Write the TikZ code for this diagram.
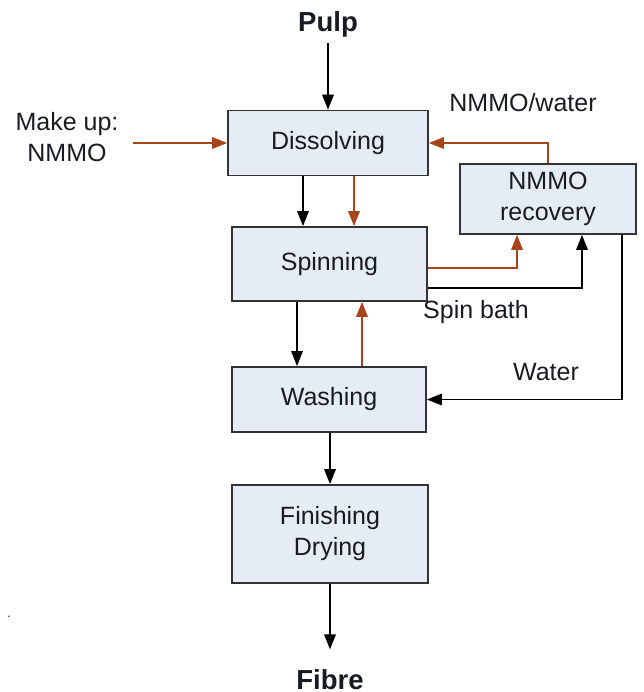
\documentclass[tikz,border=0pt]{standalone}
\usepackage{fontspec}
\setmainfont{Liberation Sans}
\usepackage{tikz}
\usetikzlibrary{arrows.meta,positioning,calc}
\definecolor{lyoblue}{HTML}{E5ECF6}
\definecolor{lyoedge}{HTML}{333333}
\definecolor{lyobrown}{HTML}{A8441A}
\definecolor{lyotext}{HTML}{1A1A22}

\begin{document}
\begin{tikzpicture}[
  x=0.4pt, y=-0.4pt,
  font=\fontsize{10}{12.4}\selectfont, text=lyotext,
  box/.style={draw=lyoedge, line width=0.7pt, fill=lyoblue, align=center,
              inner sep=0pt},
  lbl/.style={align=center, inner sep=0pt},
  ends/.style={font=\fontsize{11}{13}\selectfont\bfseries, inner sep=0pt},
  arrow/.style={-{Triangle[length=6pt, width=4.6pt]}, line width=0.7pt, draw=black},
  back/.style={arrow, draw=lyobrown, -{Triangle[length=6pt, width=4.6pt, fill=lyobrown]}}
]
\useasboundingbox (0,0) rectangle (644,692);

\node[ends] (pulp) at (328,24) {Pulp};
\node[box, minimum width=80pt, minimum height=26pt] (dissolve) at (328,143) {Dissolving};
\node[box, minimum width=78pt, minimum height=29.6pt] (spin) at (329.5,264) {Spinning};
\node[box, minimum width=70.4pt, minimum height=28pt] (recover) at (548,199) {NMMO\\recovery};
\node[box, minimum width=77.6pt, minimum height=26pt] (wash) at (329,399.5) {Washing};
\node[box, minimum width=78.4pt, minimum height=39.2pt] (finish) at (330,534) {Finishing\\Drying};
\node[ends] (fibre) at (330,680) {Fibre};

\node[lbl] (makeup) at (67,137) {Make up:\\NMMO};
\node[lbl] (nmmowater) at (523,103) {NMMO/water};
\node[lbl] (spinbath) at (476,312) {Spin bath};
\node[lbl] (water) at (546,372) {Water};
\node[lbl, font=\tiny] (dot) at (9,617) {.};

\coordinate (makeupend) at (133,143);

% main line
\draw[arrow] ([yshift=-2.2pt]pulp.south) -- (dissolve.north);
\draw[arrow] ([xshift=-10pt]dissolve.south) -- ([xshift=-10pt]dissolve.south |- spin.north);
\draw[arrow] ([xshift=-12.8pt]wash.north |- spin.south) -- ([xshift=-12.8pt]wash.north);
\draw[arrow] (wash.south -| finish.north) -- (finish.north);
\draw[arrow] (finish.south) -- ([yshift=8pt]finish.south |- fibre.north);

% solvent loop
\draw[back] (makeupend) -- (dissolve.west);
\draw[back] ([xshift=10.4pt]dissolve.south) -- ([xshift=10.4pt]dissolve.south |- spin.north);
\draw[back] (recover.north) |- (dissolve.east);
\draw[back] ([yshift=-1.6pt]spin.east) -| ([xshift=-12.4pt]recover.south);
\draw[back] ([xshift=13.2pt]wash.north) -- ([xshift=13.2pt]wash.north |- spin.south);

% spin bath and water
\draw[arrow] ([yshift=-9.6pt]spin.east) -| ([xshift=13.6pt]recover.south);
\draw[arrow] ([xshift=29.6pt]recover.south) |- (wash.east);
\end{tikzpicture}
\end{document}
